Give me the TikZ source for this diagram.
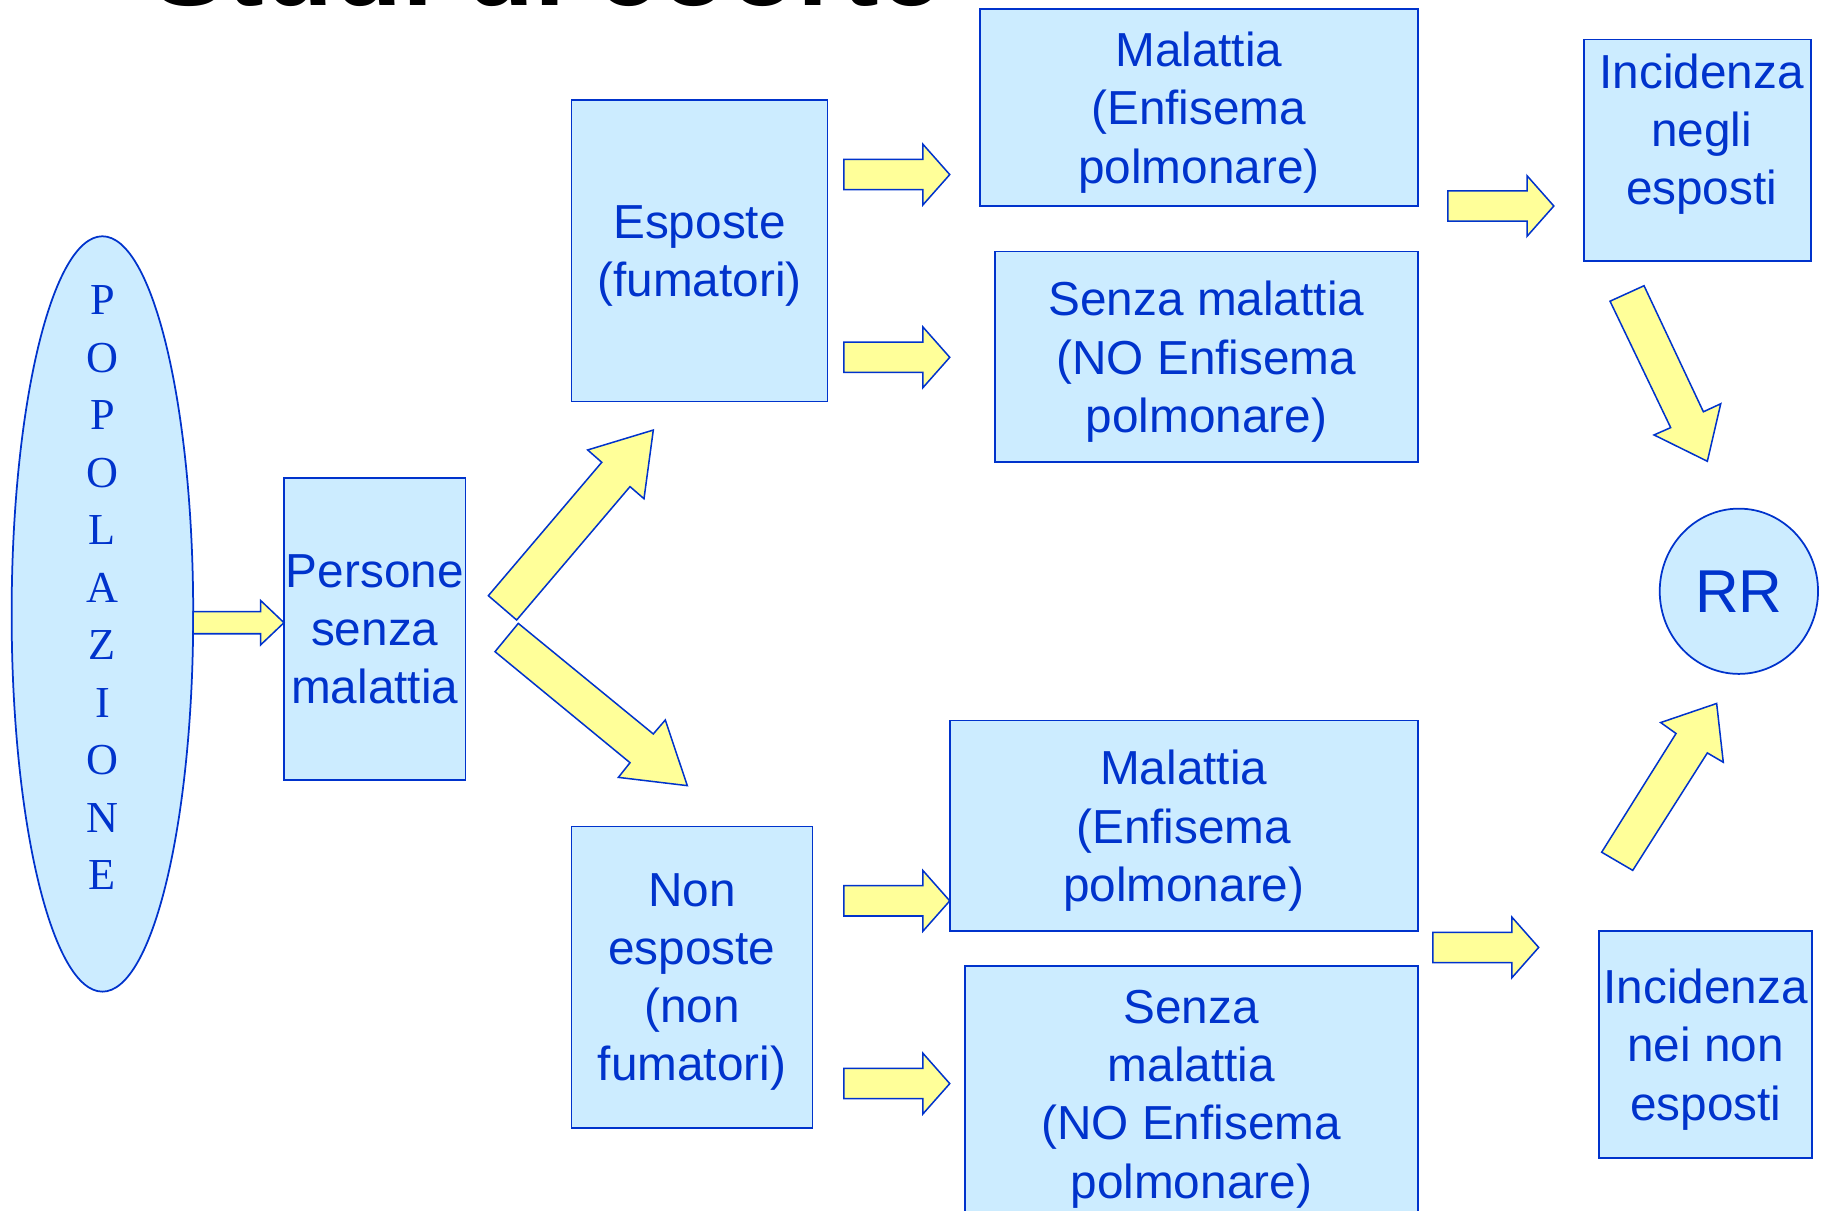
\documentclass[tikz,border=0pt]{standalone}
\usepackage{fontspec}
\setmainfont{Liberation Sans}
\newfontfamily\popserif{Liberation Serif}
\usetikzlibrary{shapes.geometric}
\definecolor{boxfill}{HTML}{CCECFF}
\definecolor{boxline}{HTML}{0033CC}
\definecolor{arrfill}{HTML}{FFFF99}
\tikzset{
  box/.style={draw=boxline, fill=boxfill, line width=1.5pt, rectangle, inner sep=0pt,
    text=boxline, font=\fontsize{41}{50}\selectfont, align=center, text depth=0pt},
  boxtext/.style={inner sep=0pt, text=boxline, font=\fontsize{41}{50}\selectfont, align=center, text depth=0pt},
  oval/.style={draw=boxline, fill=boxfill, line width=1.5pt, ellipse, inner sep=0pt, text=boxline},
  barrow/.style={draw=boxline, fill=arrfill, line width=1.3pt, line join=miter},
}
% box from corner (#2,#3) to (#4,#5)
\newcommand{\mybox}[6]{%
  \node[box, minimum width={#4-#2}, minimum height={#5-#3}] (#1) at ({(#2+#4)/2},{(#3+#5)/2}) {#6};}
% horizontal block arrow from x=#1 to tip x=#2 at height #3
\newcommand{\harr}[3]{%
  \draw[barrow] (#1,#3-13) -- (#2-23,#3-13) -- (#2-23,#3-26) -- (#2,#3) -- (#2-23,#3+26)
    -- (#2-23,#3+13) -- (#1,#3+13) -- cycle;}
\begin{document}
\begin{tikzpicture}[x=1pt,y=-1pt]
\fill[white] (0,0) rectangle (1568,1040);
\useasboundingbox (0,0) rectangle (1568,1040);

% title (mostly cut off at the top)
\node[anchor=base west, inner sep=0pt, font=\fontsize{97}{100}\selectfont\bfseries] (title) at (130,5) {Studi di coorte};

% population
\node[oval, minimum width=156, minimum height=649] (pop) at (88,527.5) {};
\node[inner sep=0pt, text=boxline, align=center, font=\popserif\fontsize{38}{49.4}\selectfont] (poptxt) at (88,505)
  {P\\O\\P\\O\\L\\A\\Z\\I\\O\\N\\E};

\mybox{pers}{244}{411}{400}{670}{Persone\\senza\\malattia}
\mybox{esp}{491}{86}{711}{345}{Esposte\\(fumatori)}
\mybox{non}{491}{710}{698}{969}{Non\\esposte\\(non\\fumatori)}
\mybox{mal1}{842}{8}{1218}{177}{Malattia\\(Enfisema\\polmonare)}
\mybox{sen1}{855}{216}{1218}{397}{Senza malattia\\(NO Enfisema\\polmonare)}
\mybox{mal2}{816}{619}{1218}{800}{Malattia\\(Enfisema\\polmonare)}
\mybox{sen2}{829}{830}{1218}{1050}{Senza\\malattia\\(NO Enfisema\\polmonare)}
\mybox{inc1}{1361}{34}{1556}{224}{}
\node[boxtext] (inc1txt) at (1462,111) {Incidenza\\negli\\esposti};
\mybox{inc2}{1374}{800}{1557}{995}{Incidenza\\nei non\\esposti}
\node[oval, minimum width=136, minimum height=142, font=\fontsize{52}{60}\selectfont] (rr) at (1494,508) {RR};

% block arrows
\draw[barrow] (166,525.5) -- (224,525.5) -- (224,516) -- (244,535) -- (224,554) -- (224,544.5) -- (166,544.5) -- cycle;
\harr{725}{816}{150}
\harr{725}{816}{307}
\harr{725}{816}{774}
\harr{725}{816}{931}
\harr{1244}{1335}{177}
\harr{1231}{1322}{814}

\draw[barrow] (419.6,511.8) -- (517.0,397.2) -- (504.9,386.6) -- (561.3,369.5) -- (553.3,428.5) -- (541.3,418.1) -- (443.9,532.7) -- cycle;
\draw[barrow] (445.3,535.6) -- (561.3,630.6) -- (571.6,618.6) -- (590.5,675.0) -- (531.3,667.9) -- (541.3,655.3) -- (425.3,559.9) -- cycle;
\draw[barrow] (1412.5,245.5) -- (1463.5,353.8) -- (1478.4,346.9) -- (1466.9,396.3) -- (1421.1,373.7) -- (1435.4,367.4) -- (1383.3,258.8) -- cycle;
\draw[barrow] (1376.1,732.2) -- (1440,630.2) -- (1426.8,620.8) -- (1474.9,604.4) -- (1480.6,654.9) -- (1466.9,646.9) -- (1402.8,747.8) -- cycle;
\end{tikzpicture}
\end{document}
